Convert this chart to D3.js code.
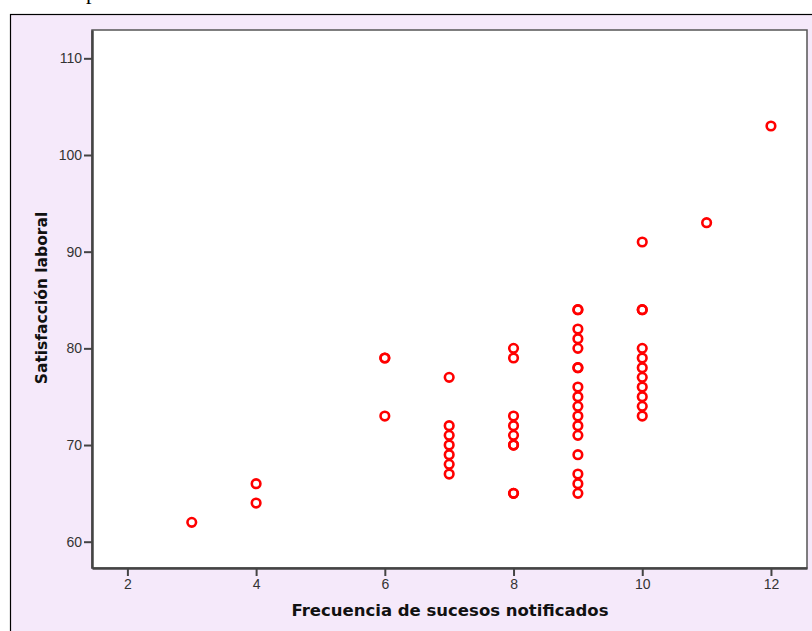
<!DOCTYPE html>
<html>
<head>
<meta charset="utf-8">
<script src="https://cdn.jsdelivr.net/npm/d3@7"></script>
<style>
  body { margin: 0; background: #ffffff; }
  svg { display: block; font-family: "DejaVu Sans", Verdana, sans-serif; }
  .tick text { fill: #333; font-size: 14px; }
  .axis-title { font-weight: bold; fill: #111; }
</style>
</head>
<body>
<div id="chart"></div>
<script>
// frecuencia de sucesos notificados (x) y satisfaccion laboral (y)
let freq = [3, 4, 4, 6, 6, 6,
    7, 7, 7, 7, 7, 7, 7,
    8, 8, 8, 8, 8, 8, 8, 8, 8,
    9, 9, 9, 9, 9, 9, 9, 9, 9, 9, 9, 9, 9, 9, 9, 9, 9,
    10, 10, 10, 10, 10, 10, 10, 10, 10, 10, 10,
    11, 12];
let satisf = [62, 66, 64, 79, 79, 73,
    77, 72, 71, 70, 69, 68, 67,
    80, 79, 73, 72, 71, 70, 70, 65, 65,
    84, 84, 82, 81, 80, 78, 78, 76, 75, 74, 73, 72, 71, 69, 67, 66, 65,
    91, 84, 84, 80, 79, 78, 77, 76, 75, 74, 73,
    93, 103];
let xTicks = [2, 4, 6, 8, 10, 12];
let yTicks = [60, 70, 80, 90, 100, 110];

const W = 812, H = 631;
const plot = {left: 92, top: 30, right: 807, bottom: 568};

function init() {
    const svg = d3.select("#chart").append("svg")
        .attr("width", W)
        .attr("height", H);

    // cut-off text from the page above
    svg.append("text")
        .attr("x", 86)
        .attr("y", -1)
        .style("font-family", "'Liberation Serif', serif")
        .style("font-size", "22px")
        .text("p");

    // outer panel
    svg.append("rect")
        .attr("x", 10.5).attr("y", 14.5)
        .attr("width", W + 10).attr("height", H)
        .attr("fill", "#f5e9fa")
        .attr("stroke", "#000")
        .attr("stroke-width", 1.2);

    // plot area
    svg.append("rect")
        .attr("x", plot.left).attr("y", plot.top)
        .attr("width", plot.right - plot.left)
        .attr("height", plot.bottom - plot.top)
        .attr("fill", "#fff")
        .attr("stroke", "#555")
        .attr("stroke-width", 1.5);

    const x = d3.scaleLinear()
        .domain([1.45, 12.56])
        .range([plot.left, plot.right]);
    const y = d3.scaleLinear()
        .domain([57.28, 112.93])
        .range([plot.bottom, plot.top]);

    const xAxis = svg.append("g")
        .attr("transform", "translate(0," + plot.bottom + ")")
        .call(d3.axisBottom(x).tickValues(xTicks).tickSize(8).tickPadding(3).tickSizeOuter(0));
    const yAxis = svg.append("g")
        .attr("transform", "translate(" + plot.left + ",0)")
        .call(d3.axisLeft(y).tickValues(yTicks).tickSize(8).tickPadding(2).tickSizeOuter(0));

    [xAxis, yAxis].forEach(a => {
        a.select(".domain").attr("stroke", "#444").attr("stroke-width", 2.5);
        a.selectAll(".tick line").attr("stroke", "#444").attr("stroke-width", 2);
        a.selectAll(".tick text").attr("font-family", null).attr("font-size", null);
    });

    // points
    svg.append("g")
        .selectAll("circle")
        .data(freq.map((f, i) => ({f: f, s: satisf[i]})))
        .enter()
        .append("circle")
        .attr("cx", d => x(d.f))
        .attr("cy", d => y(d.s))
        .attr("r", 4.3)
        .attr("fill", "none")
        .attr("stroke", "#ff0000")
        .attr("stroke-width", 2.6);

    svg.append("text")
        .attr("class", "axis-title")
        .attr("x", 450)
        .attr("y", 616)
        .attr("text-anchor", "middle")
        .style("font-size", "16.5px")
        .text("Frecuencia de sucesos notificados");

    svg.append("text")
        .attr("class", "axis-title")
        .attr("transform", "translate(47,298) rotate(-90)")
        .attr("text-anchor", "middle")
        .style("font-size", "15.5px")
        .text("Satisfacción laboral");
}

window.onload = function () {
    init();
};
</script>
</body>
</html>
